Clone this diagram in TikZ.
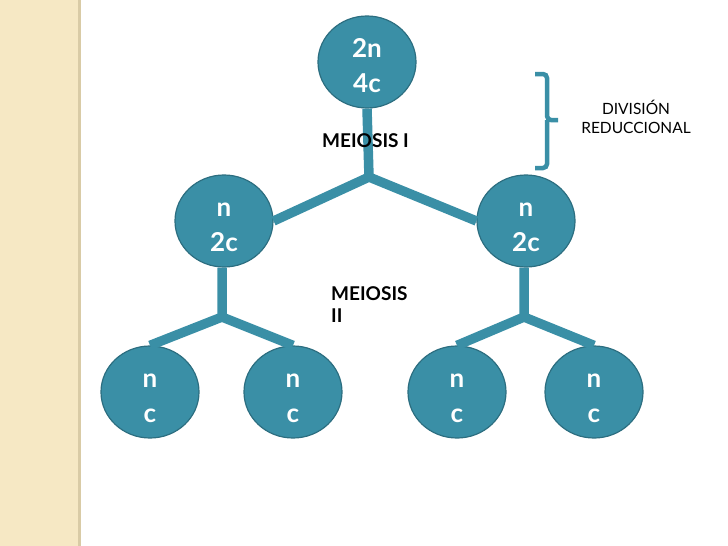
\documentclass[tikz,border=0pt]{standalone}
\usepackage{fontspec}
\setmainfont{Lato}
\usetikzlibrary{shapes.geometric}
\definecolor{celda}{HTML}{3A8FA6}
\definecolor{borde}{HTML}{2C6E80}
\definecolor{papel}{HTML}{F6E8C4}
\definecolor{sombra}{HTML}{D9CBA6}
\begin{document}
\begin{tikzpicture}[x=1pt,y=-1pt,
  celula/.style={ellipse,fill=celda,draw=borde,line width=1.2pt,minimum width=98pt,minimum height=92pt,inner sep=0pt,text=white,align=center,text height=61pt,font=\fontsize{26}{35}\selectfont\bfseries},
  rama/.style={draw=celda,line width=9.5pt},
  rotulo/.style={font=\fontsize{19}{22}\selectfont\bfseries,align=left,inner sep=0pt,anchor=base west},
  nota/.style={font=\fontsize{15.5}{19}\selectfont,align=center,inner sep=0pt}]
\useasboundingbox (0,0) rectangle (728,546);
\fill[papel](0,0)rectangle(78,546);
\fill[sombra](78,0)rectangle(81,546);
% uniones
\coordinate (j1) at (369,177);
\coordinate (j2) at (222,317);
\coordinate (j3) at (524,317);
% celulas
\node[celula](madre) at (367,62){2n\\4c};
\node[celula](hija1) at (224,221){n\\2c};
\node[celula](hija2) at (526,221){n\\2c};
\node[celula](nieta1) at (150,392){n\\c};
\node[celula](nieta2) at (293,392){n\\c};
\node[celula](nieta3) at (457,392){n\\c};
\node[celula](nieta4) at (594,392){n\\c};
% ramas
\draw[rama](madre.south)--(j1)--(hija1.east);
\draw[rama](j1)--(hija2.west);
\draw[rama](hija1.south-|j2)--(j2)--(nieta1.north);
\draw[rama](j2)--(nieta2.north);
\draw[rama](hija2.south-|j3)--(j3)--(nieta3.north);
\draw[rama](j3)--(nieta4.north);
% textos
\node[rotulo](m1) at (322,147){MEIOSIS I};
\node[rotulo](m2) at (331,300){MEIOSIS};
\node[rotulo](m3) at (331,322){II};
\draw[celda,line width=4.5pt,rounded corners=4pt](535,74)-|(547,120)--(558,120) (547,120)|-(535,168);
\node[nota](div) at (636,117){DIVISIÓN\\REDUCCIONAL};
\end{tikzpicture}
\end{document}
